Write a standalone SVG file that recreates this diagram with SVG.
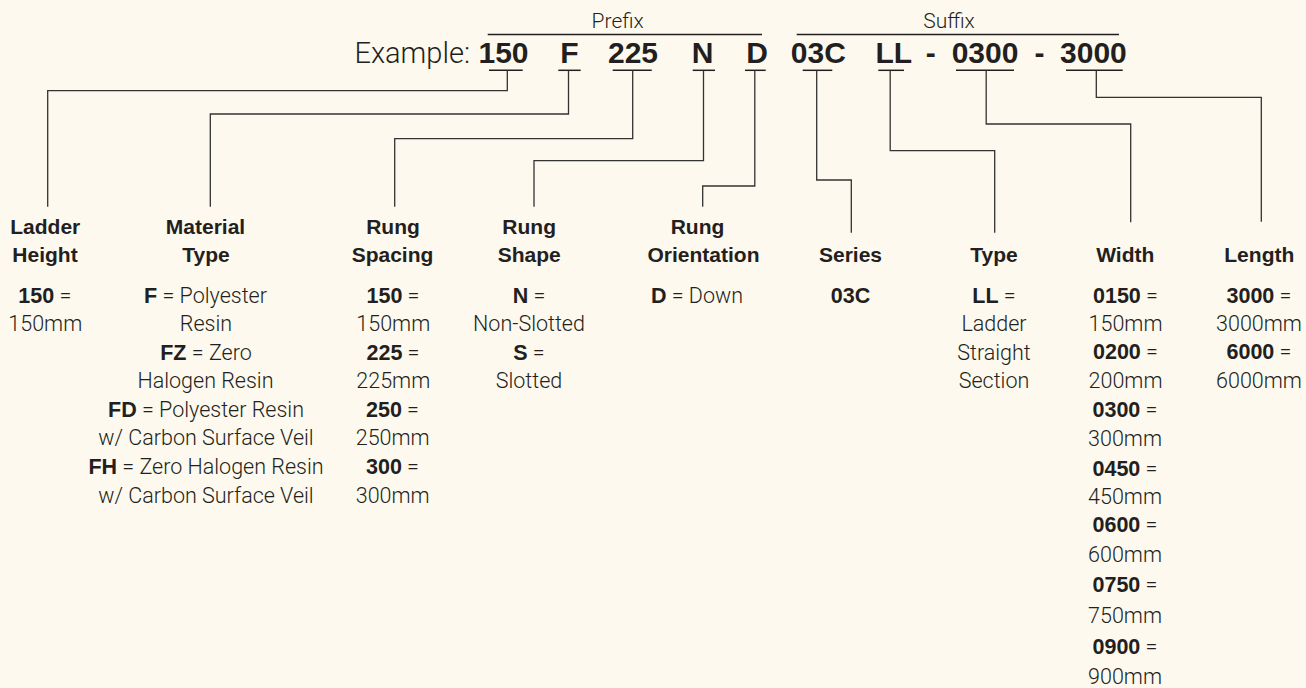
<svg xmlns="http://www.w3.org/2000/svg" width="1306" height="688" viewBox="0 0 1306 688">
<defs>
<style>
.bg { fill: #fdf9ee; }
.lt { font-family: Roboto, "Liberation Sans", Arial, sans-serif; font-weight: 300; font-size: 21.5px; fill: #231f20; text-anchor: middle; }
.b { font-family: "Liberation Sans", Arial, sans-serif; font-weight: 700; fill: #231f20; }
.hd { font-family: "Liberation Sans", Arial, sans-serif; font-weight: 700; font-size: 21px; fill: #231f20; text-anchor: middle; }
.code { font-family: "Liberation Sans", Arial, sans-serif; font-weight: 700; font-size: 30px; fill: #231f20; text-anchor: middle; }
.conn { fill: none; stroke: #333333; stroke-width: 1.3; }
.rule { stroke: #231f20; stroke-width: 1.5; }
</style>
</defs>
<rect class="bg" x="0" y="0" width="1306" height="688"/>

<g id="example">
  <text class="lt" x="617.7" y="28.3" style="font-size:21px">Prefix</text>
  <line class="rule" x1="487.7" y1="34.5" x2="762" y2="34.5"/>
  <text class="lt" x="949" y="28.3" style="font-size:21px">Suffix</text>
  <line class="rule" x1="796.7" y1="34.5" x2="1119" y2="34.5"/>
  <text class="lt" x="470" y="63.3" style="font-size:29px;text-anchor:end">Example:</text>
  <text class="code" x="503.5" y="63.3">150</text>
  <text class="code" x="569.5" y="63.3">F</text>
  <text class="code" x="633" y="63.3">225</text>
  <text class="code" x="702.7" y="63.3">N</text>
  <text class="code" x="757" y="63.3">D</text>
  <text class="code" x="818.3" y="63.3">03C</text>
  <text class="code" x="893.8" y="63.3">LL</text>
  <text class="code" x="930.8" y="63.3">-</text>
  <text class="code" x="985" y="63.3">0300</text>
  <text class="code" x="1039.5" y="63.3">-</text>
  <text class="code" x="1093.4" y="63.3">3000</text>
  <line class="rule" x1="489" y1="70.3" x2="522.7" y2="70.3"/>
  <line class="rule" x1="558.3" y1="70.3" x2="580.7" y2="70.3"/>
  <line class="rule" x1="612.7" y1="70.3" x2="651.7" y2="70.3"/>
  <line class="rule" x1="692.7" y1="70.3" x2="715" y2="70.3"/>
  <line class="rule" x1="745" y1="70.3" x2="765.7" y2="70.3"/>
  <line class="rule" x1="802.7" y1="70.3" x2="832.3" y2="70.3"/>
  <line class="rule" x1="878.3" y1="70.3" x2="904" y2="70.3"/>
  <line class="rule" x1="956" y1="70.3" x2="1014" y2="70.3"/>
  <line class="rule" x1="1066" y1="70.3" x2="1122.7" y2="70.3"/>
</g>

<g id="connectors">
  <polyline class="conn" points="507.3,70.3 507.3,90.7 47.7,90.7 47.7,206.7"/>
  <polyline class="conn" points="568.5,70.3 568.5,114 210.3,114 210.3,206.7"/>
  <polyline class="conn" points="632.7,70.3 632.7,138.7 394.7,138.7 394.7,206.7"/>
  <polyline class="conn" points="703.5,70.3 703.5,160.7 534,160.7 534,206.7"/>
  <polyline class="conn" points="754.8,70.3 754.8,186 702.7,186 702.7,206.7"/>
  <polyline class="conn" points="816.7,70.3 816.7,180 851.3,180 851.3,232.7"/>
  <polyline class="conn" points="890.2,70.3 890.2,150.7 994.7,150.7 994.7,232.7"/>
  <polyline class="conn" points="986.2,70.3 986.2,124 1130.7,124 1130.7,222.3"/>
  <polyline class="conn" points="1096.3,70.3 1096.3,97.3 1261.3,97.3 1261.3,221.7"/>
</g>

<g id="ladder-height">
  <text class="hd" x="45.3" y="233.5">Ladder</text>
  <text class="hd" x="45" y="262">Height</text>
  <text class="lt" x="44.8" y="302.5"><tspan class="b">150</tspan> =</text>
  <text class="lt" x="45.3" y="331">150mm</text>
</g>

<g id="material-type">
  <text class="hd" x="205.5" y="233.5">Material</text>
  <text class="hd" x="206" y="262">Type</text>
  <text class="lt" x="205.5" y="302.5"><tspan class="b">F</tspan> = Polyester</text>
  <text class="lt" x="206" y="331">Resin</text>
  <text class="lt" x="206" y="359.5"><tspan class="b">FZ</tspan> = Zero</text>
  <text class="lt" x="205.5" y="388.3">Halogen Resin</text>
  <text class="lt" x="206" y="416.5"><tspan class="b">FD</tspan> = Polyester Resin</text>
  <text class="lt" x="206" y="445.3">w/ Carbon Surface Veil</text>
  <text class="lt" x="206" y="474"><tspan class="b">FH</tspan> = Zero Halogen Resin</text>
  <text class="lt" x="206" y="502.7">w/ Carbon Surface Veil</text>
</g>

<g id="rung-spacing">
  <text class="hd" x="393" y="233.5">Rung</text>
  <text class="hd" x="392.5" y="262">Spacing</text>
  <text class="lt" x="393" y="302.5"><tspan class="b">150</tspan> =</text>
  <text class="lt" x="393.3" y="331">150mm</text>
  <text class="lt" x="393" y="359.5"><tspan class="b">225</tspan> =</text>
  <text class="lt" x="393.3" y="388.3">225mm</text>
  <text class="lt" x="392.5" y="416.5"><tspan class="b">250</tspan> =</text>
  <text class="lt" x="392.7" y="445.3">250mm</text>
  <text class="lt" x="392.5" y="474"><tspan class="b">300</tspan> =</text>
  <text class="lt" x="392.7" y="502.7">300mm</text>
</g>

<g id="rung-shape">
  <text class="hd" x="529.2" y="233.5">Rung</text>
  <text class="hd" x="529.3" y="262">Shape</text>
  <text class="lt" x="529" y="302.5"><tspan class="b">N</tspan> =</text>
  <text class="lt" x="529" y="331">Non-Slotted</text>
  <text class="lt" x="529" y="359.5"><tspan class="b">S</tspan> =</text>
  <text class="lt" x="529" y="388.3">Slotted</text>
</g>

<g id="rung-orientation">
  <text class="hd" x="697.5" y="233.5">Rung</text>
  <text class="hd" x="703.5" y="262">Orientation</text>
  <text class="lt" x="697" y="302.5"><tspan class="b">D</tspan> = Down</text>
</g>

<g id="series">
  <text class="hd" x="850.5" y="262">Series</text>
  <text class="hd" x="850.5" y="302.5" style="font-size:21.5px">03C</text>
</g>

<g id="type">
  <text class="hd" x="994" y="262">Type</text>
  <text class="lt" x="994" y="302.5"><tspan class="b">LL</tspan> =</text>
  <text class="lt" x="994" y="331">Ladder</text>
  <text class="lt" x="994" y="359.5">Straight</text>
  <text class="lt" x="994" y="388.3">Section</text>
</g>

<g id="width">
  <text class="hd" x="1125.3" y="262">Width</text>
  <text class="lt" x="1125.5" y="302.5"><tspan class="b">0150</tspan> =</text>
  <text class="lt" x="1125.5" y="331">150mm</text>
  <text class="lt" x="1125.5" y="359.3"><tspan class="b">0200</tspan> =</text>
  <text class="lt" x="1125.5" y="388.3">200mm</text>
  <text class="lt" x="1125" y="416.7"><tspan class="b">0300</tspan> =</text>
  <text class="lt" x="1125" y="446">300mm</text>
  <text class="lt" x="1125" y="475.7"><tspan class="b">0450</tspan> =</text>
  <text class="lt" x="1125" y="504.3">450mm</text>
  <text class="lt" x="1125" y="532.3"><tspan class="b">0600</tspan> =</text>
  <text class="lt" x="1125" y="561.7">600mm</text>
  <text class="lt" x="1125" y="591.5"><tspan class="b">0750</tspan> =</text>
  <text class="lt" x="1125" y="622.5">750mm</text>
  <text class="lt" x="1125" y="654"><tspan class="b">0900</tspan> =</text>
  <text class="lt" x="1125" y="683.5">900mm</text>
</g>

<g id="length">
  <text class="hd" x="1259.3" y="262">Length</text>
  <text class="lt" x="1259" y="302.5"><tspan class="b">3000</tspan> =</text>
  <text class="lt" x="1259" y="331">3000mm</text>
  <text class="lt" x="1259" y="359.3"><tspan class="b">6000</tspan> =</text>
  <text class="lt" x="1259" y="388.3">6000mm</text>
</g>
</svg>
